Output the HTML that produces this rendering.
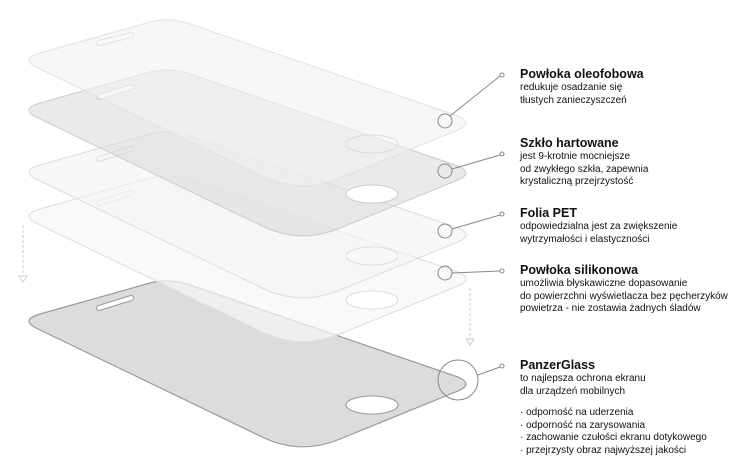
<!DOCTYPE html>
<html><head><meta charset="utf-8"><style>
body{margin:0;width:755px;height:469px;background:#fff;overflow:hidden;position:relative;font-family:"Liberation Sans",sans-serif;color:#111}
svg{position:absolute;left:0;top:0}
.t{position:absolute;left:520px;font-size:10px;line-height:12.5px;white-space:nowrap}
.t b{font-size:12.5px;display:block;line-height:15px;font-weight:bold;color:#111}
</style></head><body>
<svg width="755" height="469" viewBox="0 0 755 469">
<defs>
<path id="p" d="M40,36 L150,5 Q170,0 190,7 L458,99 Q474,106 458,113 L340,161 Q300,178 260,158 L36,50 Q20,42 40,36 Z"/>
</defs>
<g transform="translate(0,278)">
<use href="#p" fill="#dcdcdc" stroke="#9a9a9a" stroke-width="1.2"/>
<path d="M99,30 L131,20" stroke="#999" stroke-width="6" stroke-linecap="round"/>
<path d="M99,30 L131,20" stroke="#fff" stroke-width="4" stroke-linecap="round"/>
<ellipse cx="372" cy="127" rx="26" ry="9" fill="#fff" stroke="#999"/>
</g>
<g transform="translate(0,173)">
<use href="#p" fill="#f6f6f6" fill-opacity="0.7" stroke="#ddd"/>
<path d="M99,30 L131,20" stroke="#ddd" stroke-width="6" stroke-linecap="round"/>
<path d="M99,30 L131,20" stroke="#fafafa" stroke-width="4" stroke-linecap="round"/>
<ellipse cx="372" cy="127" rx="26" ry="9" fill="#fff" stroke="#ddd"/>
</g>
<g transform="translate(0,129)">
<use href="#p" fill="#f3f3f3" fill-opacity="0.6" stroke="#ddd"/>
<path d="M99,30 L131,20" stroke="#ddd" stroke-width="6" stroke-linecap="round"/>
<path d="M99,30 L131,20" stroke="#f6f6f6" stroke-width="4" stroke-linecap="round"/>
<ellipse cx="372" cy="127" rx="26" ry="9" fill="#f8f8f8" fill-opacity="0.6" stroke="#ddd"/>
</g>
<g transform="translate(0,67)">
<use href="#p" fill="#d8d8d8" fill-opacity="0.55" stroke="#ccc"/>
<path d="M99,30 L131,20" stroke="#ccc" stroke-width="6" stroke-linecap="round"/>
<path d="M99,30 L131,20" stroke="#fff" stroke-width="4" stroke-linecap="round"/>
<ellipse cx="372" cy="127" rx="26" ry="9" fill="#fff" stroke="#ccc"/>
</g>
<g transform="translate(0,17)">
<use href="#p" fill="#f2f2f2" fill-opacity="0.6" stroke="#e2e2e2"/>
<path d="M99,26 L131,18" stroke="#e0e0e0" stroke-width="6" stroke-linecap="round"/>
<path d="M99,26 L131,18" stroke="#fafafa" stroke-width="4" stroke-linecap="round"/>
<ellipse cx="372" cy="127" rx="26" ry="9" fill="none" stroke="#ddd"/>
</g>
<g stroke="#ccc" stroke-dasharray="3,2" fill="none">
<line x1="23" y1="225" x2="23" y2="277"/>
<line x1="470" y1="288" x2="470" y2="340"/>
</g>
<g fill="#fff" stroke="#ccc">
<path d="M19,276 L27,276 L23,282 Z"/>
<path d="M466,339 L474,339 L470,345 Z"/>
</g>
<g stroke="#888" stroke-width="1" fill="none">
<circle cx="445" cy="121" r="7"/>
<circle cx="445" cy="171" r="7"/>
<circle cx="445" cy="231" r="7"/>
<circle cx="445" cy="273" r="7"/>
<circle cx="458" cy="380" r="20"/>
<line x1="450" y1="116" x2="500" y2="76"/>
<line x1="452" y1="169" x2="500" y2="155"/>
<line x1="452" y1="229" x2="500" y2="215"/>
<line x1="452" y1="273" x2="500" y2="271"/>
<line x1="478" y1="375" x2="500" y2="367"/>
<circle cx="502" cy="75" r="2" fill="#fff"/>
<circle cx="502" cy="154" r="2" fill="#fff"/>
<circle cx="502" cy="214" r="2" fill="#fff"/>
<circle cx="502" cy="271" r="2" fill="#fff"/>
<circle cx="502" cy="366" r="2" fill="#fff"/>
</g>
</svg>
<div class="t" style="top:67px"><b>Powłoka oleofobowa</b>redukuje osadzanie się<br>tłustych zanieczyszczeń</div>
<div class="t" style="top:136px"><b>Szkło hartowane</b>jest 9-krotnie mocniejsze<br>od zwykłego szkła, zapewnia<br>krystaliczną przejrzystość</div>
<div class="t" style="top:206px"><b>Folia PET</b>odpowiedzialna jest za zwiększenie<br>wytrzymałości i elastyczności</div>
<div class="t" style="top:263px"><b>Powłoka silikonowa</b>umożliwia błyskawiczne dopasowanie<br>do powierzchni wyświetlacza bez pęcherzyków<br>powietrza - nie zostawia żadnych śladów</div>
<div class="t" style="top:358px"><b>PanzerGlass</b>to najlepsza ochrona ekranu<br>dla urządzeń mobilnych<br><div style="height:9px"></div>· odporność na uderzenia<br>· odporność na zarysowania<br>· zachowanie czułości ekranu dotykowego<br>· przejrzysty obraz najwyższej jakości</div>
</body></html>
